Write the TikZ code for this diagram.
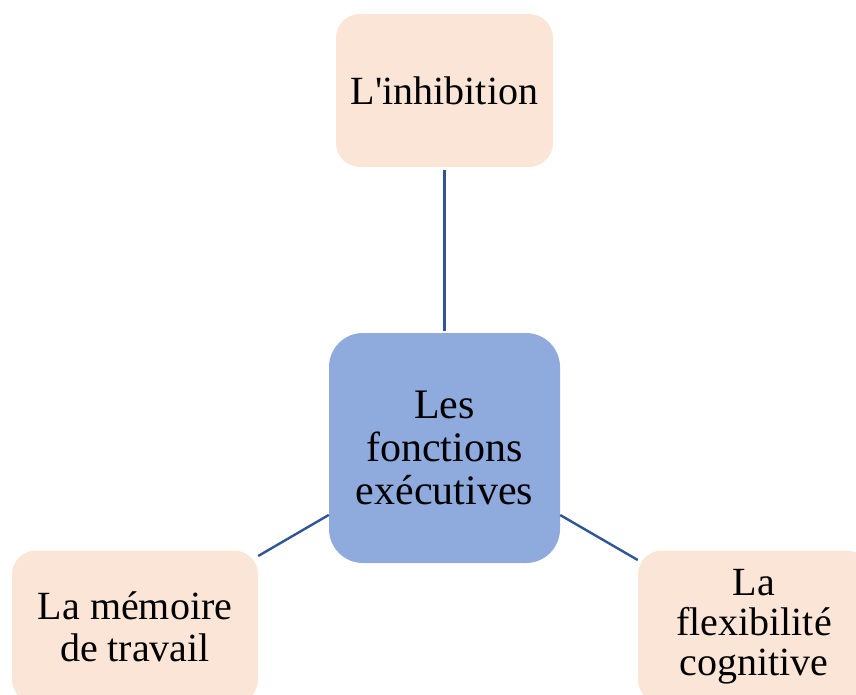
\documentclass[tikz,border=0pt]{standalone}
\usepackage{fontspec}
\setmainfont{Liberation Serif}
\definecolor{peach}{HTML}{FBE5D6}
\definecolor{skyblue}{HTML}{8FAADC}
\definecolor{linkblue}{HTML}{2F5597}
\tikzset{
  leaf/.style={fill=peach,rounded corners=24pt,inner sep=0pt,align=center,
    minimum height=153pt,font={\fontsize{40}{42}\selectfont}},
  core/.style={fill=skyblue,rounded corners=34pt,inner sep=0pt,align=center,
    minimum width=231pt,minimum height=230pt,font={\fontsize{42}{43}\selectfont}},
  link/.style={linkblue,line width=2.4pt}
}
\begin{document}
\begin{tikzpicture}[x=1pt,y=-1pt]
\useasboundingbox (0,0) rectangle (856,695);
\begin{scope}
\clip (0,0) rectangle (856,695);
\node[core] (C) at (444.5,448) {Les\\fonctions\\exécutives};% Centre
\node[leaf,minimum width=217pt] (I) at (444.5,90.5) {L\textquotesingle inhibition};% Top
\node[leaf,minimum width=246pt] (M) at (135,627) {La mémoire\\de travail};% Left
\node[leaf,minimum width=232pt,font={\fontsize{40}{40}\selectfont}] (F) at (754,627) {La\\flexibilité\\cognitive};% Right

\draw[link,shorten <=2pt,shorten >=3pt] (C) -- (I);
\draw[link] (C) -- (M);
\draw[link] (C) -- (F);
\end{scope}
\end{tikzpicture}
\end{document}
